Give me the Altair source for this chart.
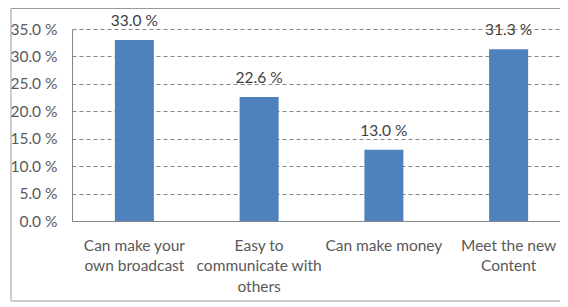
import altair as alt
import pandas as pd

categories = ["Can make your|own broadcast", "Easy to|communicate with|others", "Can make money", "Meet the new|Content"]
values = [33.0, 22.6, 13.0, 31.3]
y_ticks = [0, 5, 10, 15, 20, 25, 30, 35]

df = pd.DataFrame({"cat": categories, "val": values})

FONT = "Lato"
FS = 15.5

x_scale = alt.Scale(range=[0, 499], paddingInner=0.6875, paddingOuter=0.34375)
y_scale = alt.Scale(domain=[0, 35], nice=False)

x_enc = alt.X("cat:N", sort=categories, title=None, scale=x_scale,
              axis=alt.Axis(labelAngle=0, labelExpr="split(datum.label, '|')",
                            labelLineHeight=20.5, labelPadding=17, labelLimit=300,
                            ticks=False, domainColor="#868686", labelColor="#595959",
                            labelFontSize=FS, labelFont=FONT, labelBaseline="top"))
y_enc = alt.Y("val:Q", title=None, scale=y_scale,
              axis=alt.Axis(values=y_ticks, labelExpr="format(datum.value, '.1f') + ' %'",
                            ticks=False, labelPadding=15, domainColor="#868686",
                            gridColor="#868686", gridDash=[4, 3], gridWidth=1,
                            labelOverlap=False,
                            labelColor="#595959", labelFontSize=FS, labelFont=FONT))

base = alt.Chart(df)
bars = base.mark_bar(color="#4F81BD").encode(x=x_enc, y=y_enc)
labels = base.transform_calculate(
    lbl="format(datum.val, '.1f') + ' %'"
).mark_text(baseline="alphabetic", dy=-14, fontSize=FS, font=FONT,
            color="#404040").encode(
    x=x_enc,
    y=y_enc,
    text="lbl:N",
)

border = alt.Chart(pd.DataFrame({"a": [0]})).mark_rect(
    fill=None, stroke="#9a9a9a", strokeWidth=1).encode(
    x=alt.value(-61), x2=alt.value(510), y=alt.value(-20.5), y2=alt.value(272))

chart = alt.layer(bars, labels, border).properties(
    width=488, height=192,
    padding={"left": 64, "top": 21, "right": 0, "bottom": 81},
    autosize=alt.AutoSizeParams(type="none"),
).configure_view(strokeWidth=0)

chart.save("out.html", embed_options={"renderer": "svg", "actions": False})
